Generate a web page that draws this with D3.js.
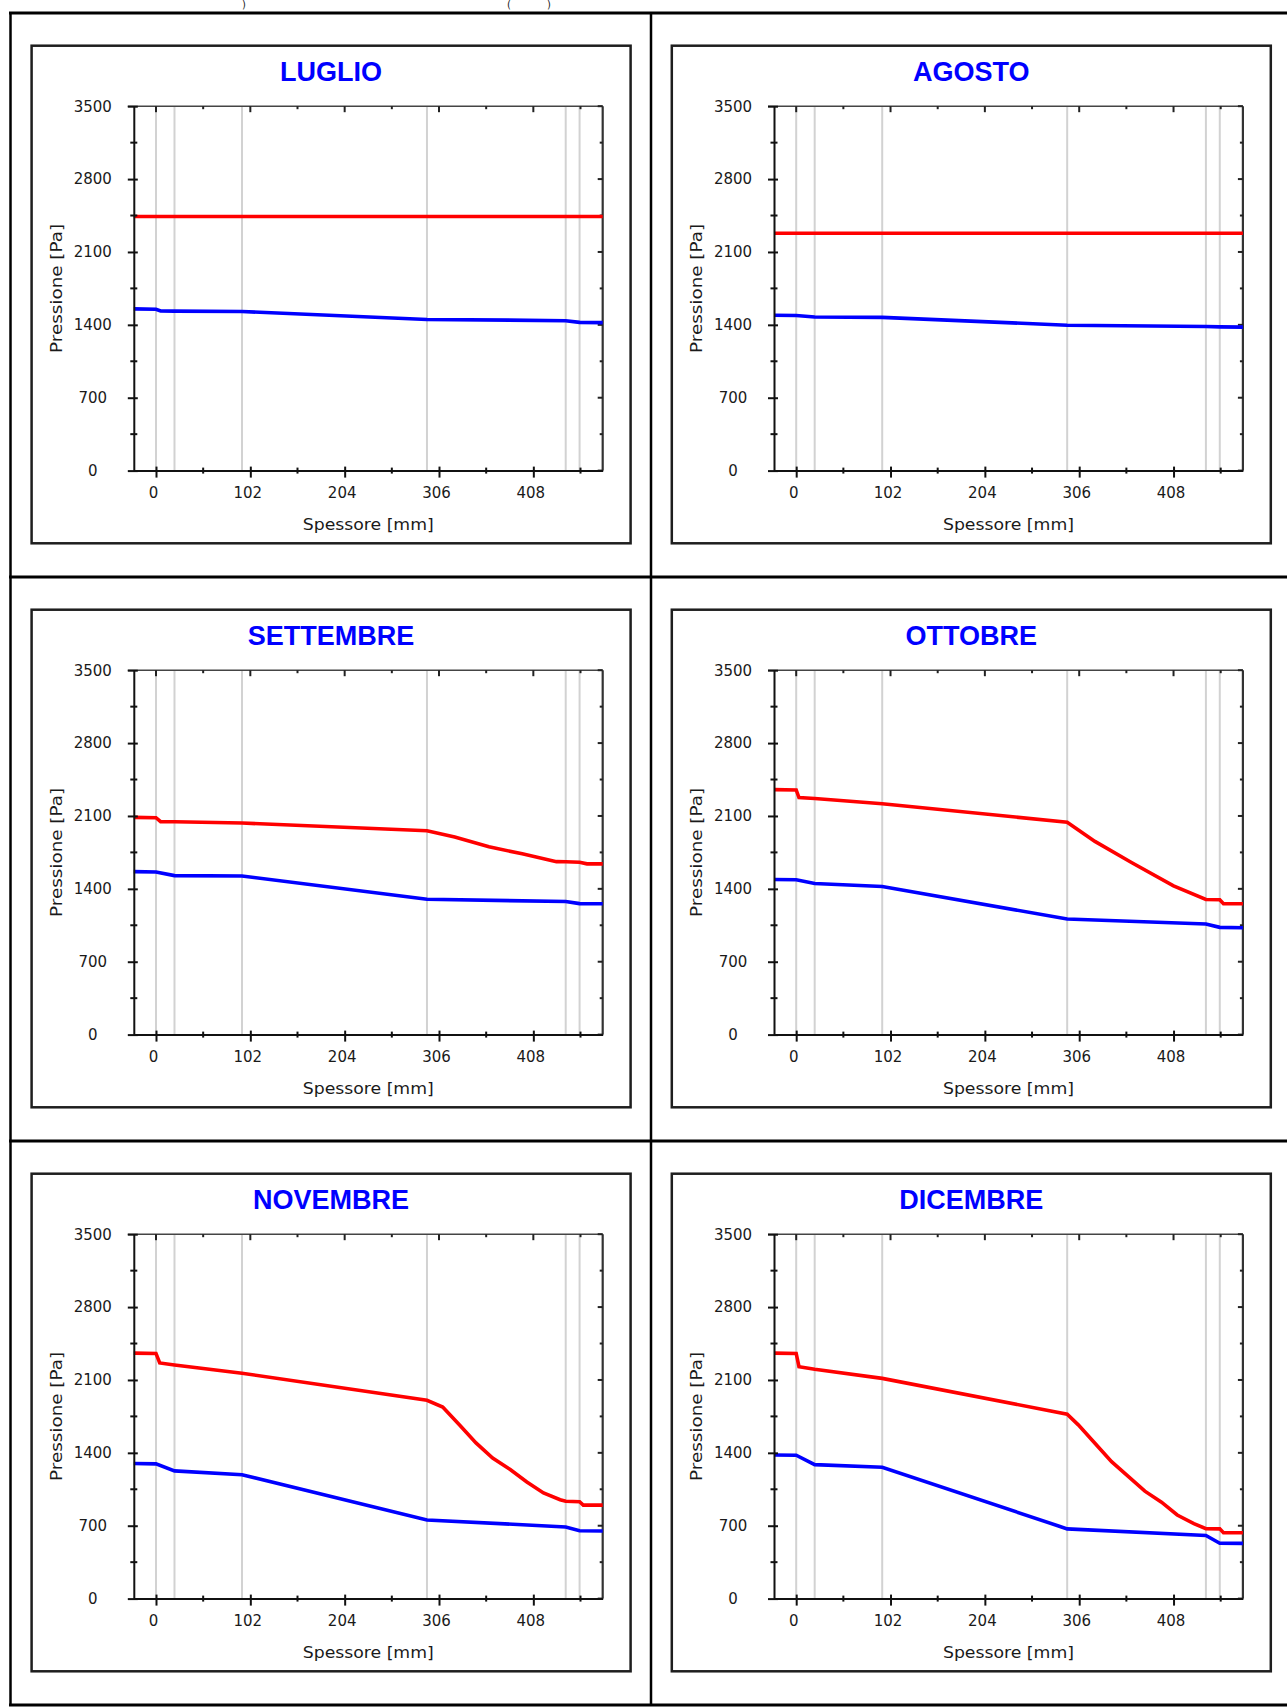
<!DOCTYPE html>
<html>
<head>
<meta charset="utf-8">
<script src="https://cdn.jsdelivr.net/npm/d3@7"></script>
<style>
  body { margin: 0; background: #fff; }
  svg { display: block; }
  text { font-family: "DejaVu Sans", sans-serif; fill: #1a1a1a; }
</style>
</head>
<body>
<script>
// Diagrammi di Glaser: pressione di saturazione (rosso) e pressione parziale (blu)
const months = ['LUGLIO', 'AGOSTO', 'SETTEMBRE', 'OTTOBRE', 'NOVEMBRE', 'DICEMBRE'];

const xTicks = [0, 102, 204, 306, 408];
const xMinor = [51, 153, 255, 357, 459];
const yTicks = [0, 700, 1400, 2100, 2800, 3500];
const yMinor = [350, 1050, 1750, 2450, 3150];

// confini degli strati [mm]
const layerEdges = [0, 20, 93, 293, 443, 458];

// luglio
const luglioPsX = [-24, 483];
const luglioPs  = [2440, 2440];
const luglioPvX = [-24, 0, 5, 20, 93, 293, 443, 458, 483];
const luglioPv  = [1553, 1550, 1533, 1532, 1528, 1452, 1440, 1424, 1421];

// agosto
const agostoPsX = [-24, 483];
const agostoPs  = [2280, 2280];
const agostoPvX = [-24, 0, 20, 93, 293, 443, 458, 483];
const agostoPv  = [1492, 1490, 1476, 1472, 1396, 1384, 1380, 1378];

// settembre
const settembrePsX = [-24, 0, 5, 20, 93, 293, 323, 360, 396, 433, 443, 458, 466, 483];
const settembrePs  = [2086, 2083, 2045, 2045, 2032, 1958, 1897, 1805, 1736, 1661, 1660, 1655, 1640, 1640];
const settembrePvX = [-24, 0, 20, 93, 293, 443, 458, 483];
const settembrePv  = [1565, 1562, 1527, 1524, 1300, 1278, 1258, 1257];

// ottobre
const ottobrePsX = [-24, 0, 3, 20, 93, 293, 323, 363, 408, 443, 458, 462, 483];
const ottobrePs  = [2353, 2350, 2277, 2268, 2218, 2040, 1856, 1651, 1428, 1298, 1296, 1257, 1257];
const ottobrePvX = [-24, 0, 20, 93, 293, 443, 458, 483];
const ottobrePv  = [1490, 1487, 1452, 1422, 1110, 1062, 1030, 1027];

// novembre
const novembrePsX = [-24, 0, 4, 20, 93, 293, 310, 328, 346, 364, 383, 401, 419, 437, 443, 458, 462, 483];
const novembrePs  = [2358, 2355, 2263, 2243, 2165, 1905, 1840, 1670, 1495, 1350, 1240, 1120, 1015, 950, 935, 930, 898, 898];
const novembrePvX = [-24, 0, 20, 93, 293, 443, 458, 483];
const novembrePv  = [1297, 1294, 1227, 1190, 755, 688, 652, 650];

// dicembre
const dicembrePsX = [-24, 0, 3, 20, 93, 293, 305, 323, 341, 359, 377, 395, 412, 430, 443, 458, 462, 483];
const dicembrePs  = [2358, 2355, 2227, 2202, 2115, 1772, 1669, 1492, 1315, 1174, 1032, 926, 803, 721, 672, 670, 633, 633];
const dicembrePvX = [-24, 0, 20, 93, 293, 443, 458, 483];
const dicembrePv  = [1379, 1377, 1287, 1262, 670, 606, 532, 530];

const panels = [
  {title: months[0], ps: d3.zip(luglioPsX, luglioPs), pv: d3.zip(luglioPvX, luglioPv)},
  {title: months[1], ps: d3.zip(agostoPsX, agostoPs), pv: d3.zip(agostoPvX, agostoPv)},
  {title: months[2], ps: d3.zip(settembrePsX, settembrePs), pv: d3.zip(settembrePvX, settembrePv)},
  {title: months[3], ps: d3.zip(ottobrePsX, ottobrePs), pv: d3.zip(ottobrePvX, ottobrePv)},
  {title: months[4], ps: d3.zip(novembrePsX, novembrePs), pv: d3.zip(novembrePvX, novembrePv)},
  {title: months[5], ps: d3.zip(dicembrePsX, dicembrePs), pv: d3.zip(dicembrePvX, dicembrePv)}
];

const WIDTH = 1287;
const HEIGHT = 1708;

const BOX_W = 599;
const BOX_H = 497.6;
const MARGIN = {left: 102.2, top: 60.5};
const PW = 468.9;
const PH = 364.4;

const SVG = d3.select('body')
              .append('svg')
              .attr('width', WIDTH)
              .attr('height', HEIGHT);

// resti della riga di testo sopra la tabella
const header = SVG.append('g').attr('font-size', 10);
[[244, ')'], [509, '('], [549, ')']].forEach(([hx, t]) => {
  header.append('text').attr('x', hx).attr('y', 8).attr('text-anchor', 'middle').text(t);
});

// tabella
const colX = [10.5, 651];
const rowY = [13, 577, 1141, 1705];
rowY.forEach(ry => {
  SVG.append('line')
     .attr('x1', colX[0] - 1.5).attr('x2', WIDTH + 5)
     .attr('y1', ry).attr('y2', ry)
     .attr('stroke', '#000').attr('stroke-width', 3);
});
colX.forEach(cx => {
  SVG.append('line')
     .attr('x1', cx).attr('x2', cx)
     .attr('y1', rowY[0]).attr('y2', rowY[3])
     .attr('stroke', '#000').attr('stroke-width', 2.5);
});

const xScale = d3.scaleLinear().domain([-24, 483]).range([0, PW]);
const yScale = d3.scaleLinear().domain([0, 3500]).range([PH, 0]);

const line = d3.line()
               .x(d => xScale(d[0]))
               .y(d => yScale(d[1]));

panels.forEach((p, i) => {
  const col = i % 2;
  const row = Math.floor(i / 2);
  const box = SVG.append('g')
                 .attr('transform', 'translate(' + (31.6 + col * 640.2) + ',' + (45.7 + row * 564) + ')');

  box.append('rect')
     .attr('x', 0).attr('y', 0)
     .attr('width', BOX_W).attr('height', BOX_H)
     .attr('fill', '#fff')
     .attr('stroke', '#1e1e1e')
     .attr('stroke-width', 2.5);

  box.append('text')
     .attr('x', BOX_W / 2)
     .attr('y', 35.7)
     .attr('text-anchor', 'middle')
     .style('font-family', '"Liberation Sans", Arial, sans-serif')
     .style('font-weight', 'bold')
     .style('font-size', '27px')
     .style('fill', '#0000ff')
     .text(p.title);

  const g = box.append('g').attr('transform', 'translate(' + MARGIN.left + ',' + MARGIN.top + ')');

  // linee grigie degli strati
  g.selectAll('.layer')
   .data(layerEdges)
   .enter()
   .append('line')
   .attr('class', 'layer')
   .attr('x1', d => xScale(d)).attr('x2', d => xScale(d))
   .attr('y1', 0).attr('y2', PH)
   .attr('stroke', '#d2d2d2')
   .attr('stroke-width', 2);

  // cornice sopra e a destra
  g.append('line')
   .attr('x1', -6).attr('x2', PW).attr('y1', 0).attr('y2', 0)
   .attr('stroke', '#444').attr('stroke-width', 1.6);
  g.append('line')
   .attr('x1', PW).attr('x2', PW).attr('y1', 0).attr('y2', PH)
   .attr('stroke', '#333').attr('stroke-width', 2.2);

  // tacche sopra (verso l'interno)
  g.selectAll('.ttop')
   .data(xTicks.concat(xMinor))
   .enter()
   .append('line')
   .attr('x1', d => xScale(d)).attr('x2', d => xScale(d))
   .attr('y1', 0).attr('y2', d => xTicks.includes(d) ? 6 : 3)
   .attr('stroke', '#222').attr('stroke-width', 2);

  // tacche a destra (verso l'interno)
  g.selectAll('.tright')
   .data(yTicks.concat(yMinor))
   .enter()
   .append('line')
   .attr('x1', d => yTicks.includes(d) ? PW - 5 : PW - 3).attr('x2', PW)
   .attr('y1', d => yScale(d)).attr('y2', d => yScale(d))
   .attr('stroke', '#222').attr('stroke-width', 2);

  // serie
  g.append('path')
   .datum(p.ps)
   .attr('d', line)
   .attr('fill', 'none')
   .attr('stroke', '#ff0000')
   .attr('stroke-width', 3.6);
  g.append('path')
   .datum(p.pv)
   .attr('d', line)
   .attr('fill', 'none')
   .attr('stroke', '#0000ff')
   .attr('stroke-width', 3.6);

  // asse y
  const yAxis = g.append('g')
                 .call(d3.axisLeft(yScale).tickValues(yTicks).tickFormat(d3.format('d'))
                         .tickSize(6).tickSizeOuter(0));
  yAxis.select('.domain').attr('stroke', '#111').attr('stroke-width', 2);
  yAxis.selectAll('.tick line').attr('x1', 4).attr('stroke', '#111').attr('stroke-width', 2);
  yAxis.selectAll('.tick text')
       .attr('x', -41)
       .attr('text-anchor', 'middle')
       .style('font-family', '"DejaVu Sans", sans-serif')
       .style('font-size', '15px')
       .style('fill', '#1a1a1a');

  g.selectAll('.yminor')
   .data(yMinor)
   .enter()
   .append('line')
   .attr('x1', -3.5).attr('x2', 3.5)
   .attr('y1', d => yScale(d)).attr('y2', d => yScale(d))
   .attr('stroke', '#111').attr('stroke-width', 2);

  // asse x
  const xAxis = g.append('g')
                 .attr('transform', 'translate(0,' + PH + ')')
                 .call(d3.axisBottom(xScale).tickValues(xTicks).tickFormat(d3.format('d'))
                         .tickSize(7).tickSizeOuter(0));
  xAxis.select('.domain').attr('stroke', '#111').attr('stroke-width', 2);
  xAxis.selectAll('.tick line').attr('y1', -4).attr('stroke', '#111').attr('stroke-width', 2);
  xAxis.selectAll('.tick text')
       .attr('y', 17)
       .attr('x', -3)
       .style('font-family', '"DejaVu Sans", sans-serif')
       .style('font-size', '15px')
       .style('fill', '#1a1a1a');

  g.selectAll('.xminor')
   .data(xMinor)
   .enter()
   .append('line')
   .attr('x1', d => xScale(d)).attr('x2', d => xScale(d))
   .attr('y1', PH - 3).attr('y2', PH + 3)
   .attr('stroke', '#111').attr('stroke-width', 2);

  // titoli degli assi
  g.append('text')
   .attr('x', PW / 2)
   .attr('y', PH + 59)
   .attr('text-anchor', 'middle')
   .attr('textLength', 131)
   .attr('lengthAdjust', 'spacingAndGlyphs')
   .style('font-size', '16px')
   .text('Spessore [mm]');

  g.append('text')
   .attr('transform', 'translate(-72,' + (PH / 2) + ') rotate(-90)')
   .attr('text-anchor', 'middle')
   .attr('textLength', 129)
   .attr('lengthAdjust', 'spacingAndGlyphs')
   .style('font-size', '16px')
   .text('Pressione [Pa]');
});
</script>
</body>
</html>
